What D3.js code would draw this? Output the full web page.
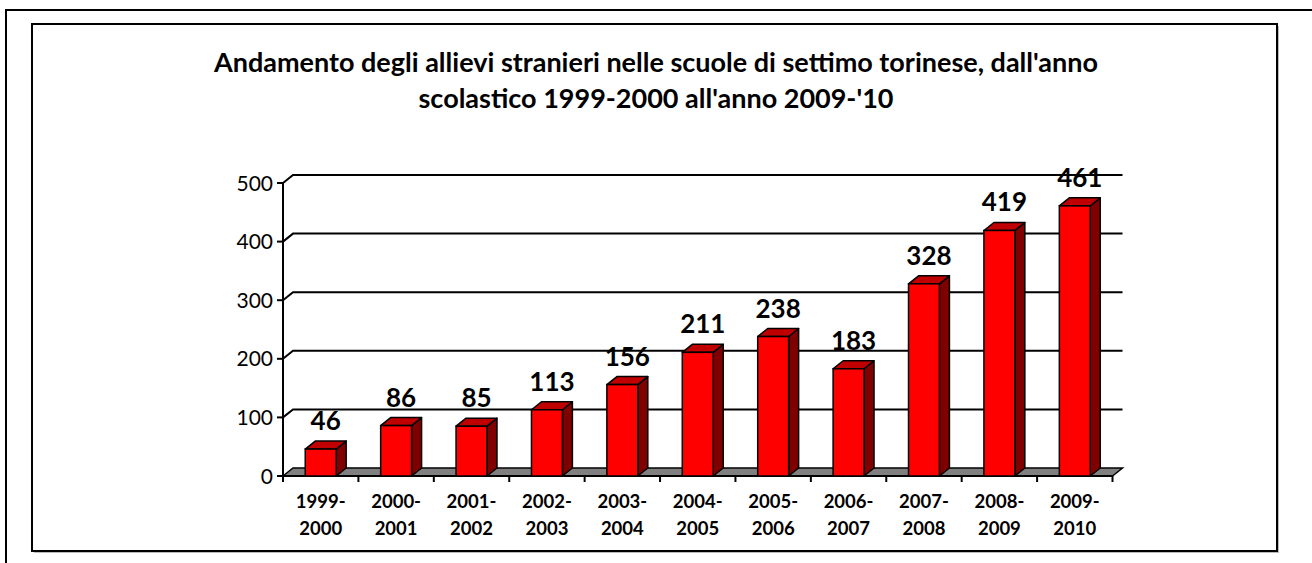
<!DOCTYPE html>
<html><head><meta charset="utf-8">
<script src="https://cdn.jsdelivr.net/npm/d3@7"></script>
<style>body{margin:0;background:#fff;overflow:hidden}</style>
</head><body><svg id="c" width="1312" height="563"></svg>
<script>
const titleLines = ["Andamento degli allievi stranieri nelle scuole di settimo torinese, dall'anno",
                    "scolastico 1999-2000 all'anno 2009-'10"];
const categories = ["1999-2000","2000-2001","2001-2002","2002-2003","2003-2004","2004-2005",
                    "2005-2006","2006-2007","2007-2008","2008-2009","2009-2010"];
const values = [46, 86, 85, 113, 156, 211, 238, 183, 328, 419, 461];
const yTicks = [0, 100, 200, 300, 400, 500];

const svg = d3.select("#c");
const left = 283, right = 1112.5, y0 = 476, yTop = 183;
const dx = 10, dy = -8;
const calibri = "Lato, 'Open Sans', sans-serif";

// frames
svg.append("rect").attr("x",6).attr("y",10).attr("width",1400).attr("height",700)
  .attr("fill","none").attr("stroke","#000").attr("stroke-width",2);
svg.append("rect").attr("x",34).attr("y",26).attr("width",1245).attr("height",527)
  .attr("fill","#bbb");
svg.append("rect").attr("x",32).attr("y",24).attr("width",1245).attr("height",527)
  .attr("fill","#fff").attr("stroke","#000").attr("stroke-width",2);

const x = d3.scaleBand().domain(categories).range([left, right]).padding(0);
const y = d3.scaleLinear().domain([0, 500]).range([y0, yTop]);
const bw = x.bandwidth() * 0.41;

// gridlines on back wall
const g = svg.append("g");
yTicks.filter(t => t > 0).forEach(t => {
  const yy = y(t);
  g.append("path").attr("d", `M${left},${yy}L${left+dx},${yy+dy}L${right+dx},${yy+dy}`)
    .attr("fill","none").attr("stroke","#000").attr("stroke-width",2);
});
// floor
g.append("path").attr("d", `M${left},${y0}L${left+dx},${y0+dy}L${right+dx},${y0+dy}L${right},${y0}Z`)
  .attr("fill","#808080").attr("stroke","#000").attr("stroke-width",1.5);
// y axis line
g.append("line").attr("x1",left).attr("x2",left).attr("y1",yTop).attr("y2",y0+6)
  .attr("stroke","#000").attr("stroke-width",2);
g.append("line").attr("x1",left).attr("x2",right).attr("y1",y0).attr("y2",y0)
  .attr("stroke","#000").attr("stroke-width",2);
// y ticks
yTicks.forEach(t => {
  g.append("line").attr("x1",left-6).attr("x2",left).attr("y1",y(t)).attr("y2",y(t))
    .attr("stroke","#000").attr("stroke-width",2);
  g.append("text").attr("x",left-10).attr("y",y(t)).attr("dy","0.36em")
    .attr("text-anchor","end").attr("font-family",calibri)
    .attr("font-size",21).attr("fill","#000").text(t);
});
// x ticks
const bounds = categories.map(c => x(c)).concat([right]);
bounds.forEach(b => {
  g.append("line").attr("x1",b).attr("x2",b).attr("y1",y0).attr("y2",y0+6)
    .attr("stroke","#000").attr("stroke-width",2);
});

// bars
const bars = svg.append("g").selectAll("g").data(values).join("g");
bars.each(function(v, i) {
  const gg = d3.select(this);
  const cx = x(categories[i]) + x.bandwidth()/2;
  const x0 = cx - bw/2, x1 = cx + bw/2, yt = y(v);
  gg.append("path").attr("d", `M${x1},${yt}L${x1+dx},${yt+dy}L${x1+dx},${y0+dy}L${x1},${y0}Z`)
    .attr("fill","#800000").attr("stroke","#000").attr("stroke-width",1.5).attr("stroke-linejoin","round");
  gg.append("path").attr("d", `M${x0},${yt}L${x0+dx},${yt+dy}L${x1+dx},${yt+dy}L${x1},${yt}Z`)
    .attr("fill","#c00000").attr("stroke","#000").attr("stroke-width",1.5).attr("stroke-linejoin","round");
  gg.append("rect").attr("x",x0).attr("y",yt).attr("width",bw).attr("height",y0-yt)
    .attr("fill","#ff0000").attr("stroke","#000").attr("stroke-width",1.5);
  gg.append("text").attr("x",cx+dx/2).attr("y",yt+dy-11).attr("text-anchor","middle")
    .attr("font-family",calibri).attr("font-weight","bold").attr("font-size",26)
    .attr("fill","#000").text(v);
});

// category labels
categories.forEach(c => {
  const parts = c.split("-");
  const cx = x(c) + x.bandwidth()/2;
  const t = svg.append("text").attr("text-anchor","middle").attr("font-family",calibri)
    .attr("font-weight","bold").attr("font-size",18.5).attr("fill","#000");
  t.append("tspan").attr("x",cx).attr("y",508).text(parts[0] + "-");
  t.append("tspan").attr("x",cx).attr("y",535).text(parts[1]);
});

// title
titleLines.forEach((l, i) => {
  svg.append("text").attr("x",656).attr("y",72 + i*36).attr("text-anchor","middle")
    .attr("font-family",calibri).attr("font-weight","bold").attr("font-size",27)
    .attr("fill","#000").text(l);
});
</script></body></html>
